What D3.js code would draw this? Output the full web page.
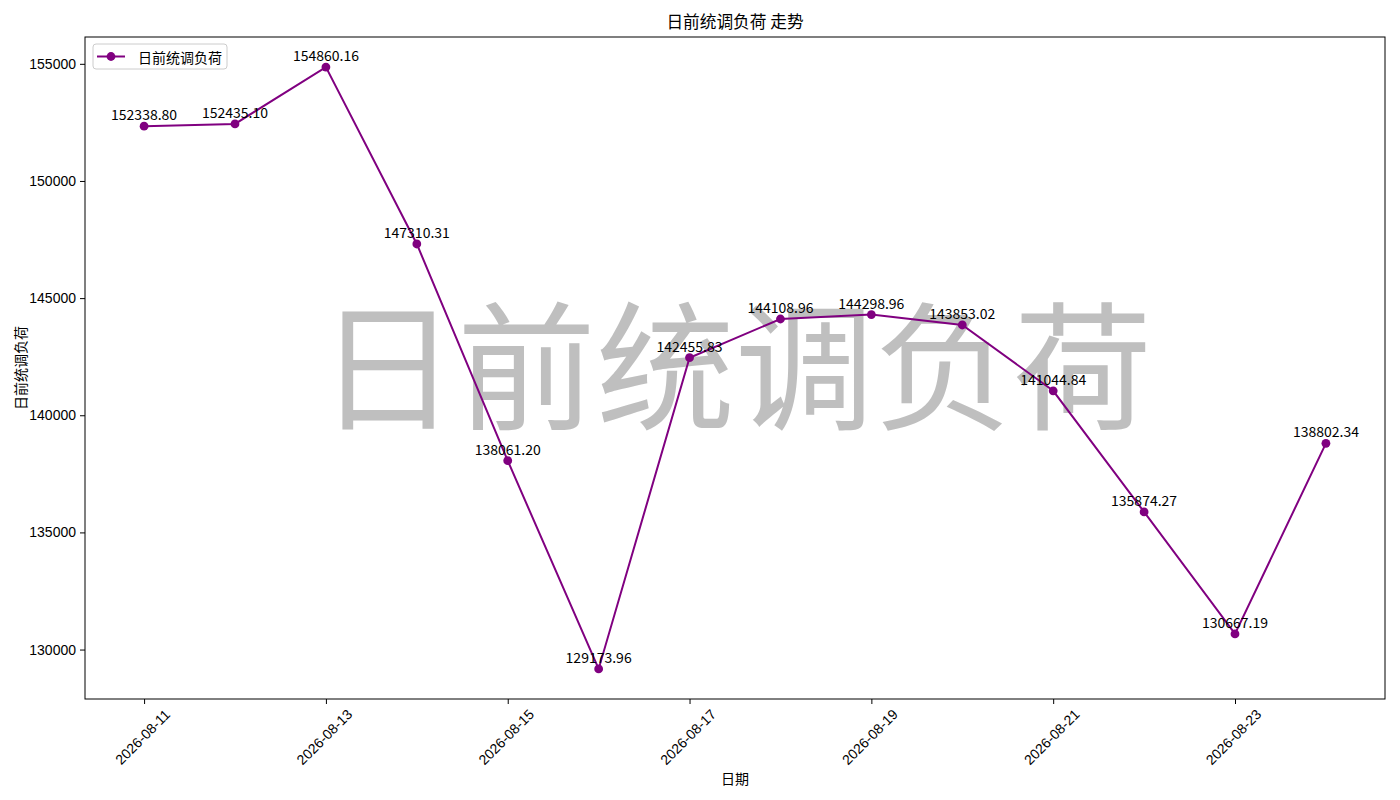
<!DOCTYPE html>
<html>
<head>
<meta charset="utf-8">
<script src="https://cdn.jsdelivr.net/npm/d3@7"></script>
<style>
  body { margin: 0; background: #fff; }
  svg { font-family: 'Noto Sans CJK SC', 'DejaVu Sans', sans-serif; }
</style>
</head>
<body>
<div id="chart"></div>
<script>
const dates = ['2026-08-11', '2026-08-12', '2026-08-13', '2026-08-14', '2026-08-15', '2026-08-16', '2026-08-17',
  '2026-08-18', '2026-08-19', '2026-08-20', '2026-08-21', '2026-08-22', '2026-08-23', '2026-08-24']
const loads = [152338.80, 152435.10, 154860.16, 147310.31, 138061.20, 129173.96, 142455.83,
  144108.96, 144298.96, 143853.02, 141044.84, 135874.27, 130667.19, 138802.34]
const xTickDates = ['2026-08-11', '2026-08-13', '2026-08-15', '2026-08-17', '2026-08-19', '2026-08-21', '2026-08-23']
const yTicks = [130000, 135000, 140000, 145000, 150000, 155000]
const seriesName = '日前统调负荷'

const margin = { top: 37, right: 15, bottom: 101, left: 85 }
const width = 1400 - margin.left - margin.right
const height = 800 - margin.top - margin.bottom
const color = 'purple'

const parse = d3.utcParse('%Y-%m-%d')
const data = dates.map((d, i) => ({ date: parse(d), value: loads[i] }))

const svgRoot = d3.select('#chart')
  .append('svg')
  .attr('width', 1400)
  .attr('height', 800)

const svg = svgRoot.append('g')
  .attr('transform', 'translate(' + margin.left + ',' + margin.top + ')')

// matplotlib style 5% padding on both axes
const xExt = d3.extent(data, d => d.date)
const xPad = (xExt[1] - xExt[0]) * 0.05
const xScale = d3.scaleUtc()
  .domain([new Date(+xExt[0] - xPad), new Date(+xExt[1] + xPad)])
  .range([0, width])

const yExt = d3.extent(loads)
const yPad = (yExt[1] - yExt[0]) * 0.05
const yScale = d3.scaleLinear()
  .domain([yExt[0] - yPad, yExt[1] + yPad])
  .range([height, 0])

// watermark
svg.append('text')
  .attr('x', width / 2)
  .attr('y', height / 2 - 10)
  .attr('text-anchor', 'middle')
  .attr('dominant-baseline', 'central')
  .attr('font-size', 139)
  .attr('fill', '#808080')
  .attr('fill-opacity', 0.5)
  .text(seriesName)

// axes
const xAxis = d3.axisBottom(xScale)
  .tickValues(xTickDates.map(parse))
  .tickFormat(d3.utcFormat('%Y-%m-%d'))
  .tickSizeOuter(0)
  .tickSize(5)
  .tickPadding(4)

const xg = svg.append('g')
  .attr('transform', 'translate(0,' + height + ')')
  .call(xAxis)
xg.select('.domain').remove()
xg.selectAll('text')
  .attr('font-size', 14)
  .attr('fill', '#000')
  .attr('text-anchor', 'middle')
  .attr('dy', null)
  .attr('y', 0)
  .attr('transform', 'translate(-2,38) rotate(-45)')
  .attr('dominant-baseline', 'central')

const yAxis = d3.axisLeft(yScale)
  .tickValues(yTicks)
  .tickFormat(d3.format('d'))
  .tickSizeOuter(0)
  .tickSize(5)
  .tickPadding(4)

const yg = svg.append('g').call(yAxis)
yg.select('.domain').remove()
yg.selectAll('text').attr('font-size', 14).attr('fill', '#000')

svg.append('rect')
  .attr('width', width)
  .attr('height', height)
  .attr('fill', 'none')
  .attr('stroke', '#000')
  .attr('stroke-width', 1)

// line + markers
const line = d3.line()
  .x(d => xScale(d.date))
  .y(d => yScale(d.value))

svg.append('path')
  .datum(data)
  .attr('d', line)
  .attr('fill', 'none')
  .attr('stroke', color)
  .attr('stroke-width', 2)

svg.selectAll('.dot')
  .data(data)
  .enter()
  .append('circle')
  .attr('class', 'dot')
  .attr('cx', d => xScale(d.date))
  .attr('cy', d => yScale(d.value))
  .attr('r', 4.4)
  .attr('fill', color)

svg.selectAll('.val')
  .data(data)
  .enter()
  .append('text')
  .attr('class', 'val')
  .attr('x', d => xScale(d.date))
  .attr('y', d => yScale(d.value) - 6)
  .attr('text-anchor', 'middle')
  .attr('font-size', 14)
  .attr('fill', '#000')
  .text(d => d.value.toFixed(2))

// legend
const legend = svg.append('g').attr('transform', 'translate(8,7)')
legend.append('rect')
  .attr('width', 134)
  .attr('height', 25)
  .attr('rx', 3)
  .attr('fill', '#fff')
  .attr('fill-opacity', 0.8)
  .attr('stroke', '#ccc')
legend.append('line')
  .attr('x1', 4).attr('x2', 32)
  .attr('y1', 12.5).attr('y2', 12.5)
  .attr('stroke', color)
  .attr('stroke-width', 2)
legend.append('circle')
  .attr('cx', 18).attr('cy', 12.5).attr('r', 4.4)
  .attr('fill', color)
legend.append('text')
  .attr('x', 45).attr('y', 12.5)
  .attr('dominant-baseline', 'central')
  .attr('font-size', 14)
  .text(seriesName)

// titles
svgRoot.append('text')
  .attr('x', margin.left + width / 2)
  .attr('y', 28)
  .attr('text-anchor', 'middle')
  .attr('font-size', 16.7)
  .text(seriesName + ' 走势')

svgRoot.append('text')
  .attr('x', margin.left + width / 2)
  .attr('y', 784)
  .attr('text-anchor', 'middle')
  .attr('font-size', 14)
  .text('日期')

svgRoot.append('text')
  .attr('transform', 'translate(26,' + (margin.top + height / 2) + ') rotate(-90)')
  .attr('text-anchor', 'middle')
  .attr('font-size', 14)
  .text(seriesName)
</script>
</body>
</html>
